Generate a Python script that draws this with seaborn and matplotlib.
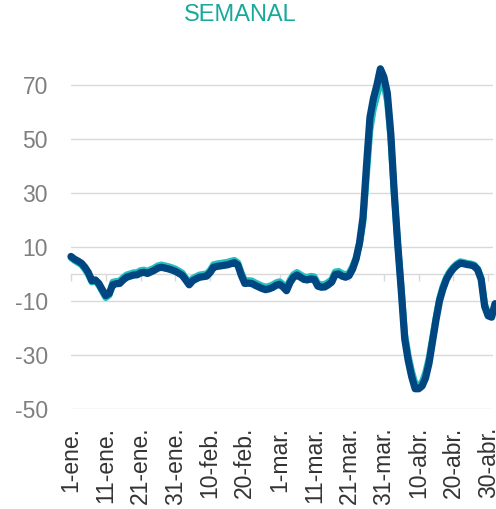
import pandas as pd
import matplotlib
matplotlib.use('Agg')
import matplotlib.pyplot as plt
import seaborn as sns

# dias desde el 1-ene (2020, bisiesto)
dias = list(range(0, 123))

# serie principal (azul oscuro)
serie_azul = [
    6.5, 5.5, 4.8, 4.0, 2.5, 0.5, -2.5, -2.2, -3.5, -5.8,
    -8.0, -7.2, -4.0, -3.6, -3.5, -2.2, -1.2, -0.8, -0.4, -0.3,
    0.4, 0.6, 0.2, 0.8, 1.4, 2.2, 2.5, 2.2, 1.9, 1.5,
    1.0, 0.3, -0.5, -2.2, -4.0, -2.5, -1.8, -1.2, -1.0, -0.8,
    0.5, 2.5, 2.8, 3.0, 3.2, 3.4, 3.8, 4.2, 3.3, -0.5,
    -3.5, -3.4, -3.5, -4.2, -4.8, -5.4, -5.8, -5.5, -5.0, -4.2,
    -3.8, -4.8, -6.2, -3.2, -1.2, -0.4, -1.2, -2.0, -2.2, -1.8,
    -2.0, -4.5, -4.9, -4.8, -4.0, -3.0, -0.2, 0.0, -0.8, -1.2,
    -0.6, 1.8, 5.5, 11.5, 21.0, 40.0, 58.0, 65.0, 70.0, 76.0,
    73.0, 67.0, 52.0, 30.0, 11.0, -6.0, -24.0, -32.0, -38.0, -42.5,
    -42.5, -41.5, -38.5, -33.0, -25.0, -17.0, -10.0, -5.5, -2.0, 0.3,
    2.0, 3.2, 4.0, 3.8, 3.5, 3.3, 2.9, 1.5, -2.0, -12.0,
    -15.5, -16.0, -11.0,
]

# serie secundaria (turquesa), casi siempre tapada por la azul
serie_turquesa = [
    6.0, 5.0, 4.2, 3.4, 1.8, -0.3, -3.0, -2.5, -4.2, -6.5,
    -8.8, -7.8, -3.0, -2.7, -2.6, -1.3, -0.3, 0.1, 0.5, 0.6,
    1.3, 1.5, 1.1, 1.7, 2.3, 3.1, 3.4, 3.1, 2.8, 2.4,
    1.9, 1.2, 0.4, -1.4, -3.2, -1.6, -0.9, -0.3, -0.1, 0.1,
    1.4, 3.5, 3.8, 4.0, 4.2, 4.4, 4.8, 5.1, 4.2, 0.5,
    -2.5, -2.4, -2.5, -3.2, -3.8, -4.4, -4.8, -4.5, -4.0, -3.2,
    -2.8, -3.8, -5.2, -2.2, -0.2, 0.6, -0.2, -1.0, -1.2, -0.8,
    -1.0, -3.5, -3.9, -3.8, -3.0, -2.0, 0.8, 1.0, 0.2, -0.2,
    0.4, 2.8, 6.0, 11.0, 19.0, 36.0, 53.0, 61.0, 66.0, 71.0,
    70.0, 64.0, 50.0, 29.0, 11.0, -5.0, -22.0, -30.0, -36.0, -40.5,
    -41.5, -40.0, -36.5, -31.0, -23.5, -16.0, -9.0, -4.5, -1.2, 1.0,
    2.6, 3.8, 4.6, 4.3, 4.0, 3.8, 3.4, 2.0, -1.5, -11.0,
    -15.0, -15.5, -11.0,
]

etiquetas_x = ['1-ene.', '11-ene.', '21-ene.', '31-ene.', '10-feb.', '20-feb.',
               '1-mar.', '11-mar.', '21-mar.', '31-mar.', '10-abr.', '20-abr.',
               '30-abr.']
ticks_x = [0, 10, 20, 30, 40, 50, 60, 70, 80, 90, 100, 110, 120]
ticks_y = [-50, -30, -10, 10, 30, 50, 70]

sns.set_style('white')
plt.rcParams['font.family'] = ['Liberation Sans', 'DejaVu Sans']

df = pd.DataFrame({'dia': dias, 'azul': serie_azul, 'turquesa': serie_turquesa})

fig = plt.figure(figsize=(4.96, 5.09), dpi=100)
ax = fig.add_axes([71 / 496, 100 / 509, 422 / 496, 351 / 509])

sns.lineplot(data=df, x='dia', y='turquesa', ax=ax, color='#26BFC0',
             linewidth=4.8, clip_on=False, zorder=3)
sns.lineplot(data=df, x='dia', y='azul', ax=ax, color='#004781',
             linewidth=5.2, clip_on=False, zorder=4)

ax.set_xlim(0, 121.4)
ax.set_ylim(-50, 80)
ax.set_xlabel('')
ax.set_ylabel('')

ax.set_yticks(ticks_y)
ax.set_yticklabels([str(v) for v in ticks_y])
ax.grid(axis='y', color='#D9D9D9', linewidth=1)
ax.grid(axis='x', visible=False)
ax.tick_params(axis='y', length=0, pad=16.5, labelsize=16.5, labelcolor='#7F7F7F')

# eje horizontal cruzando en 0
for lado in ['top', 'right', 'left']:
    ax.spines[lado].set_visible(False)
ax.spines['bottom'].set_position(('data', 0))
ax.spines['bottom'].set_color('#D9D9D9')
ax.spines['bottom'].set_linewidth(1)

ax.set_xticks(ticks_x)
ax.set_xticklabels(etiquetas_x, rotation=90)
ax.tick_params(axis='x', bottom=True, length=5, width=1, color='#D9D9D9',
               direction='out', pad=105, labelsize=16.5, labelcolor='#333333')

fig.text(0.484, 1 - 15 / 509, 'SEMANAL', ha='center', va='center',
         fontsize=17, color='#17A99A')

fig.savefig('out.png', dpi=100)
